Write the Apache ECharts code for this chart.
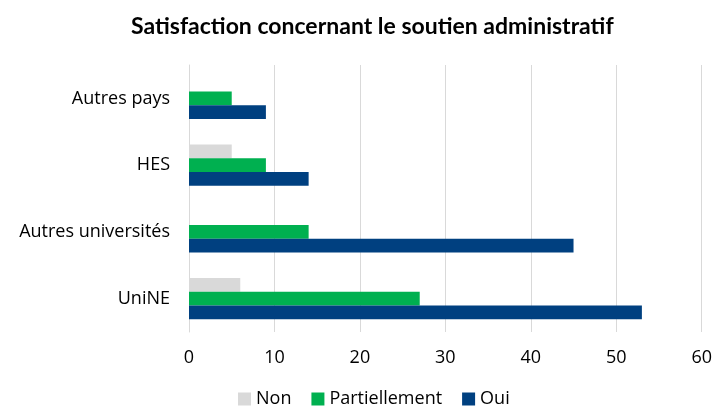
<!DOCTYPE html>
<html lang="fr">
<head>
    <meta charset="utf-8">
    <title>Satisfaction concernant le soutien administratif</title>
    <script src="https://cdn.jsdelivr.net/npm/echarts@6/dist/echarts.min.js"></script>
    <style>
        html, body {margin: 0; padding: 0; background: #fff;}
        #main {width: 715px; height: 412px;}
    </style>
</head>
<body>
<div id="main"></div>
<script type="text/javascript">
    // categories, bottom to top as in the picture
    var categories = ['UniNE', 'Autres universités', 'HES', 'Autres pays'];
    var nonData = [6, 0, 5, 0];
    var partielData = [27, 14, 9, 5];
    var ouiData = [53, 45, 14, 9];
    var xTicks = [0, 10, 20, 30, 40, 50, 60];

    var font = '"Open Sans", sans-serif';
    var myChart = echarts.init(document.getElementById('main'));

    var option = {
        animation: false,
        title: {
            text: 'Satisfaction concernant le soutien administratif',
            left: 126,
            top: 10,
            textStyle: {fontFamily: 'Lato, sans-serif', fontSize: 23, fontWeight: 'bold', color: '#000'}
        },
        legend: {
            data: ['Non', 'Partiellement', 'Oui'],
            bottom: -1,
            left: 233,
            itemWidth: 13,
            itemHeight: 13,
            itemGap: 20,
            icon: 'rect',
            textStyle: {fontFamily: font, fontSize: 18, color: '#000'}
        },
        grid: {
            left: 189,
            right: 11,
            top: 65,
            bottom: 80
        },
        xAxis: {
            type: 'value',
            min: xTicks[0],
            max: xTicks[xTicks.length - 1],
            interval: 10,
            axisLine: {show: false},
            axisTick: {show: false},
            axisLabel: {fontFamily: font, fontSize: 18, color: '#000', margin: 17},
            splitLine: {lineStyle: {color: '#d9d9d9', width: 1}}
        },
        yAxis: {
            type: 'category',
            data: categories,
            axisLine: {lineStyle: {color: '#d9d9d9'}},
            axisTick: {show: false},
            axisLabel: {fontFamily: font, fontSize: 18, color: '#000', margin: 19}
        },
        series: [
            {
                name: 'Non',
                type: 'bar',
                data: nonData,
                barGap: '0%',
                barCategoryGap: '38%',
                itemStyle: {color: '#d9d9d9'}
            },
            {
                name: 'Partiellement',
                type: 'bar',
                data: partielData,
                itemStyle: {color: '#00b050'}
            },
            {
                name: 'Oui',
                type: 'bar',
                data: ouiData,
                itemStyle: {color: '#004080'}
            }
        ]
    };
    myChart.setOption(option);
</script>
</body>
</html>
